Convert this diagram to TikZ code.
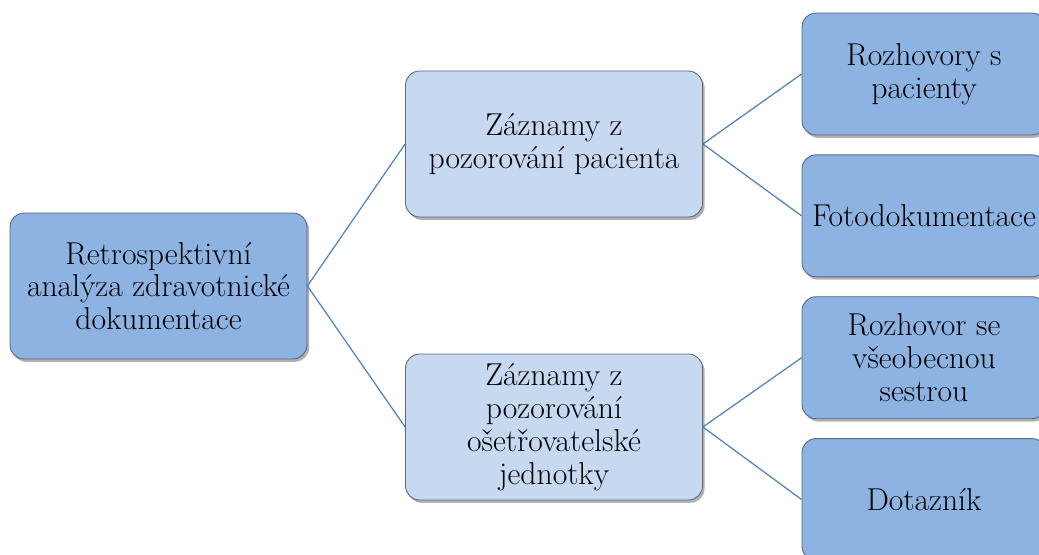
\documentclass[tikz,border=0pt]{standalone}
\usepackage{fontspec}
\usepackage{tikz}
\usetikzlibrary{positioning,shadows}
\definecolor{darkbox}{RGB}{141,179,226}
\definecolor{lightbox}{RGB}{198,217,241}
\definecolor{boxline}{RGB}{88,104,128}
\definecolor{linkblue}{RGB}{79,129,189}

\begin{document}
\begin{tikzpicture}[
    x=0.02cm, y=-0.02cm,
    node distance=0.38cm,
    bigbox/.style={rectangle, draw=boxline, line width=0.5pt, rounded corners=0.28cm,
        minimum width=5.94cm, minimum height=2.92cm, inner sep=0pt, align=center,
        font=\fontsize{18pt}{18.7pt}\selectfont,
        drop shadow={shadow xshift=1.2pt, shadow yshift=-1.6pt, opacity=0.3, fill=black}},
    smallbox/.style={bigbox, fill=darkbox, minimum width=4.88cm, minimum height=2.44cm},
    link/.style={draw=linkblue, line width=0.7pt}
]
\useasboundingbox (0,0) rectangle (1039,555);
\clip (0,0) rectangle (1039,555);

% Root
\node[bigbox, fill=darkbox] (root) at (158.5,286) {Retrospektivní\\analýza zdravotnické\\dokumentace};

% Middle level
\node[bigbox, fill=lightbox] (pacient) at (554,144) {Záznamy z\\pozorování pacienta};
\node[bigbox, fill=lightbox] (jednotka) at (554,427) {Záznamy z\\pozorování\\ošetřovatelské\\jednotky};

% Right column
\node[smallbox] (rozhovory) at (924,74) {Rozhovory s\\pacienty};
\node[smallbox, below=of rozhovory] (foto) {Fotodokumentace};
\node[smallbox, below=of foto] (sestra) {Rozhovor se\\všeobecnou\\sestrou};
\node[smallbox, below=of sestra] (dotaznik) {Dotazník};

% Links
\draw[link] (root.east) -- (pacient.west);
\draw[link] (root.east) -- (jednotka.west);
\draw[link] (pacient.east) -- (rozhovory.west);
\draw[link] (pacient.east) -- (foto.west);
\draw[link] (jednotka.east) -- (sestra.west);
\draw[link] (jednotka.east) -- (dotaznik.west);

\end{tikzpicture}
\end{document}
